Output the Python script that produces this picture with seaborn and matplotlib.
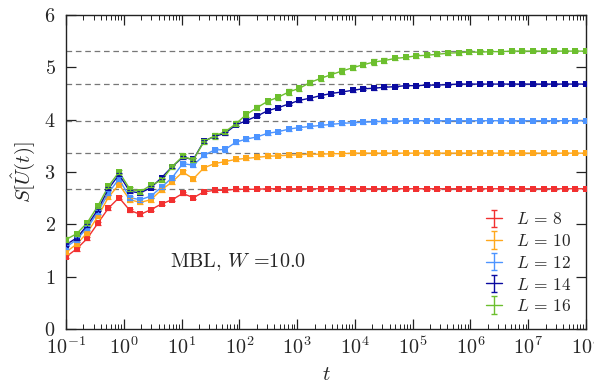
import numpy as np
import pandas as pd
import matplotlib
matplotlib.use("Agg")
import matplotlib.pyplot as plt
import seaborn as sns
from matplotlib.ticker import LogLocator, NullFormatter

# ---------------- data ----------------
log10_t = [-1.0, -0.8163, -0.6327, -0.4490, -0.2653, -0.0816, 0.1020, 0.2857, 0.4694, 0.6531,
           0.8367, 1.0204, 1.2041, 1.3878, 1.5714, 1.7551, 1.9388, 2.1224, 2.3061, 2.4898,
           2.6735, 2.8571, 3.0408, 3.2245, 3.4082, 3.5918, 3.7755, 3.9592, 4.1429, 4.3265,
           4.5102, 4.6939, 4.8776, 5.0612, 5.2449, 5.4286, 5.6122, 5.7959, 5.9796, 6.1633,
           6.3469, 6.5306, 6.7143, 6.8980, 7.0816, 7.2653, 7.4490, 7.6327, 7.8163, 8.0]

L_values = [8, 10, 12, 14, 16]
legend_labels = [r"$L\,=\,8$", r"$L\,=\,10$", r"$L\,=\,12$", r"$L\,=\,14$", r"$L\,=\,16$"]

S_L8 = [1.38, 1.53, 1.73, 2.02, 2.31, 2.51, 2.27, 2.19, 2.28, 2.39,
        2.47, 2.59, 2.51, 2.62, 2.65, 2.65, 2.67, 2.67, 2.67, 2.68,
        2.68, 2.68, 2.68, 2.68, 2.68, 2.68, 2.68, 2.68, 2.68, 2.68,
        2.68, 2.68, 2.68, 2.68, 2.68, 2.68, 2.68, 2.68, 2.68, 2.68,
        2.68, 2.68, 2.68, 2.68, 2.68, 2.68, 2.68, 2.68, 2.68, 2.68]
S_L10 = [1.47, 1.62, 1.84, 2.15, 2.52, 2.76, 2.47, 2.42, 2.47, 2.66,
         2.81, 3.00, 2.87, 3.08, 3.16, 3.20, 3.24, 3.26, 3.28, 3.30,
         3.31, 3.32, 3.33, 3.34, 3.34, 3.35, 3.35, 3.36, 3.36, 3.36,
         3.36, 3.36, 3.36, 3.36, 3.36, 3.36, 3.36, 3.36, 3.36, 3.36,
         3.36, 3.36, 3.36, 3.36, 3.36, 3.36, 3.36, 3.36, 3.36, 3.36]
S_L12 = [1.56, 1.71, 1.93, 2.23, 2.60, 2.87, 2.51, 2.47, 2.54, 2.71,
         2.89, 3.16, 3.13, 3.32, 3.42, 3.43, 3.57, 3.63, 3.67, 3.74,
         3.77, 3.82, 3.85, 3.87, 3.89, 3.91, 3.93, 3.94, 3.95, 3.96,
         3.97, 3.97, 3.98, 3.98, 3.98, 3.98, 3.98, 3.98, 3.98, 3.98,
         3.98, 3.98, 3.98, 3.98, 3.98, 3.98, 3.98, 3.98, 3.98, 3.98]
S_L14 = [1.61, 1.74, 1.98, 2.28, 2.68, 2.95, 2.63, 2.60, 2.70, 2.89,
         3.10, 3.28, 3.24, 3.59, 3.68, 3.74, 3.90, 3.98, 4.07, 4.17,
         4.23, 4.30, 4.37, 4.41, 4.46, 4.50, 4.53, 4.56, 4.59, 4.60,
         4.62, 4.63, 4.65, 4.65, 4.66, 4.66, 4.67, 4.68, 4.68, 4.68,
         4.68, 4.68, 4.68, 4.68, 4.68, 4.68, 4.68, 4.68, 4.68, 4.68]
S_L16 = [1.71, 1.82, 2.03, 2.35, 2.73, 3.00, 2.68, 2.62, 2.75, 2.84,
         3.10, 3.30, 3.23, 3.58, 3.69, 3.77, 3.92, 4.10, 4.23, 4.35,
         4.43, 4.53, 4.60, 4.71, 4.79, 4.86, 4.93, 4.99, 5.05, 5.10,
         5.13, 5.17, 5.19, 5.22, 5.23, 5.25, 5.27, 5.28, 5.29, 5.29,
         5.30, 5.30, 5.31, 5.31, 5.31, 5.31, 5.31, 5.31, 5.31, 5.31]

E_L8 = [0.03, 0.03, 0.03, 0.03, 0.03, 0.03, 0.03, 0.03, 0.03, 0.03,
        0.03, 0.03, 0.03, 0.03, 0.03, 0.03, 0.03, 0.03, 0.015, 0.015,
        0.015, 0.015, 0.015, 0.015, 0.015, 0.015, 0.015, 0.015, 0.015, 0.015,
        0.015, 0.015, 0.015, 0.015, 0.015, 0.015, 0.015, 0.015, 0.015, 0.015,
        0.015, 0.015, 0.015, 0.015, 0.015, 0.015, 0.015, 0.015, 0.015, 0.015]
E_L10 = [0.035, 0.035, 0.035, 0.035, 0.035, 0.035, 0.035, 0.035, 0.035, 0.035,
         0.035, 0.035, 0.035, 0.035, 0.035, 0.035, 0.035, 0.035, 0.025, 0.025,
         0.025, 0.025, 0.025, 0.025, 0.025, 0.025, 0.025, 0.025, 0.025, 0.025,
         0.025, 0.015, 0.015, 0.015, 0.015, 0.015, 0.015, 0.015, 0.015, 0.015,
         0.015, 0.015, 0.015, 0.015, 0.015, 0.015, 0.015, 0.015, 0.015, 0.015]
E_L12 = [0.04, 0.04, 0.04, 0.04, 0.04, 0.04, 0.04, 0.04, 0.04, 0.04,
         0.04, 0.04, 0.04, 0.04, 0.04, 0.04, 0.04, 0.04, 0.03, 0.03,
         0.03, 0.03, 0.03, 0.03, 0.03, 0.03, 0.03, 0.03, 0.03, 0.03,
         0.03, 0.015, 0.015, 0.015, 0.015, 0.015, 0.015, 0.015, 0.015, 0.015,
         0.015, 0.015, 0.015, 0.015, 0.015, 0.015, 0.015, 0.015, 0.015, 0.015]
E_L14 = [0.03, 0.03, 0.03, 0.03, 0.03, 0.03, 0.03, 0.03, 0.03, 0.03,
         0.03, 0.03, 0.03, 0.03, 0.03, 0.03, 0.03, 0.03, 0.025, 0.025,
         0.025, 0.025, 0.025, 0.025, 0.025, 0.025, 0.025, 0.025, 0.025, 0.025,
         0.025, 0.015, 0.015, 0.015, 0.015, 0.015, 0.015, 0.015, 0.015, 0.015,
         0.015, 0.015, 0.015, 0.015, 0.015, 0.015, 0.015, 0.015, 0.015, 0.015]
E_L16 = [0.04, 0.04, 0.04, 0.04, 0.04, 0.04, 0.04, 0.04, 0.04, 0.04,
         0.04, 0.04, 0.04, 0.05, 0.05, 0.05, 0.05, 0.05, 0.05, 0.05,
         0.05, 0.05, 0.05, 0.05, 0.05, 0.05, 0.05, 0.05, 0.05, 0.05,
         0.05, 0.035, 0.035, 0.035, 0.035, 0.035, 0.035, 0.035, 0.035, 0.035,
         0.035, 0.02, 0.02, 0.02, 0.02, 0.02, 0.02, 0.02, 0.02, 0.02]

saturation = [2.68, 3.36, 3.98, 4.68, 5.31]
annotation = r"MBL, $W$ =10.0"

colors = ["#f23030", "#ffa81c", "#4d94ff", "#0a0aa0", "#6cbf2e"]

# ---------------- style ----------------
sns.set_style("ticks")
FS = 14.5
LFS = 12.5
plt.rcParams.update({
    "font.family": "serif",
    "font.serif": ["cmr10"],
    "mathtext.fontset": "cm",
    "axes.formatter.use_mathtext": True,
    "axes.unicode_minus": False,
    "font.size": FS,
    "axes.edgecolor": "#222222",
    "axes.linewidth": 1.0,
})

series = [S_L8, S_L10, S_L12, S_L14, S_L16]
errors = [E_L8, E_L10, E_L12, E_L14, E_L16]
t = 10 ** np.array(log10_t)
df = pd.concat([pd.DataFrame({"t": t, "S": s, "err": e, "L": L})
                for s, e, L in zip(series, errors, L_values)], ignore_index=True)

fig = plt.figure(figsize=(5.94, 3.83), dpi=100)
ax = fig.add_axes([66 / 594, 1 - 329 / 383, 520 / 594, 314 / 383])

for v in saturation:
    ax.axhline(v, color="#777777", lw=0.9, ls=(0, (4.5, 3)), zorder=1)

palette = dict(zip(L_values, colors))
sns.lineplot(data=df, x="t", y="S", hue="L", palette=palette, marker="s",
             markersize=4.2, markeredgewidth=0, linewidth=1.0, legend=False,
             ax=ax, zorder=3)

for L, c in zip(L_values, colors):
    d = df[df["L"] == L]
    ax.errorbar(d["t"], d["S"], yerr=d["err"], fmt="none", ecolor=c,
                elinewidth=0.9, capsize=2.2, capthick=0.9, zorder=3)

# legend proxies (errorbar glyphs without markers)
handles = []
for lab, c in zip(legend_labels, colors):
    h = ax.errorbar([np.nan], [np.nan], yerr=[0.1], color=c, lw=1.0,
                    elinewidth=1.0, capsize=2.5, capthick=1.0, label=lab)
    handles.append(h)
ax.legend(handles=handles, labels=legend_labels, loc="lower right",
          bbox_to_anchor=(1.0, 0.0), frameon=False, fontsize=LFS,
          handlelength=0.95, handletextpad=0.8, labelspacing=0.33,
          borderaxespad=0.45)

ax.set_xscale("log")
ax.set_xlim(0.1, 1e8)
ax.set_ylim(0, 6)
ax.set_yticks([0, 1, 2, 3, 4, 5, 6])
ax.xaxis.set_major_locator(LogLocator(base=10, numticks=20))
ax.xaxis.set_minor_locator(LogLocator(base=10, subs=np.arange(2, 10), numticks=100))
ax.xaxis.set_minor_formatter(NullFormatter())
ax.tick_params(which="both", direction="in", top=True, right=True, color="#222222")
ax.tick_params(which="major", length=7, width=0.9, labelsize=FS)
ax.tick_params(axis="y", which="major", pad=7.5)
ax.tick_params(axis="x", which="major", pad=5)
ax.tick_params(which="minor", length=3.5, width=0.7)

ax.set_xlabel("$t$", fontsize=15, labelpad=6)
ax.set_ylabel(r"$S[\hat{U}(t)]$", fontsize=15, labelpad=5)

ax.text(10 ** 0.8, 1.27, annotation, fontsize=FS, ha="left", va="center")

fig.savefig("out.png", dpi=100)
